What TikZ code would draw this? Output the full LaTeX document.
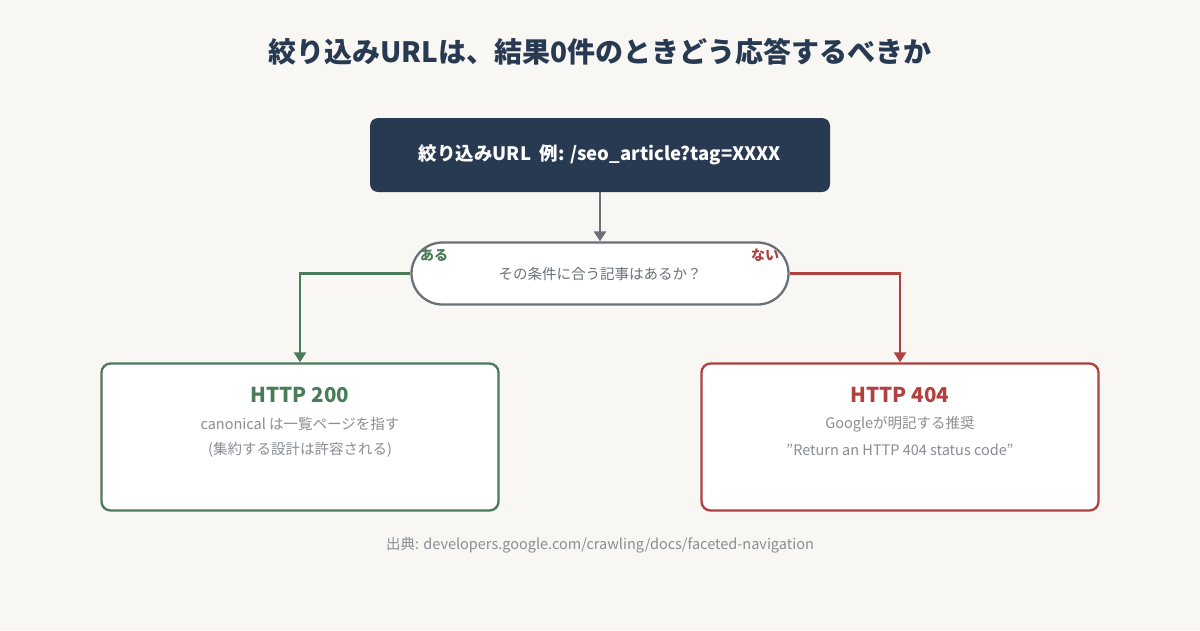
\documentclass[tikz,border=0pt]{standalone}
\usepackage{fontspec}
\setmainfont{Noto Sans CJK JP}
\usetikzlibrary{arrows.meta}
\definecolor{bg}{HTML}{F8F7F4}
\definecolor{navy}{HTML}{283A52}
\definecolor{gr}{HTML}{4A7C59}
\definecolor{rd}{HTML}{B0413E}
\definecolor{gy}{HTML}{6B7078}
\definecolor{tx}{HTML}{8A8D92}
\tikzset{
 box/.style={draw, line width=2.3pt, fill=white, rounded corners=9pt, minimum width=397pt, minimum height=147pt},
 conn/.style={line width=2.3pt, -{Triangle[length=10pt,width=12pt]}},
 body/.style={font=\fontsize{14.5}{16}\selectfont, text=tx},
}
\begin{document}
\begin{tikzpicture}[x=1pt,y=-1pt]
\fill[bg] (0,0) rectangle (1200,630);
\useasboundingbox (0,0) rectangle (1200,630);
\node (title) at (600,52) {\fontsize{28}{30}\selectfont\bfseries\color{navy}絞り込みURLは、結果0件のときどう応答するべきか};
\node[fill=navy, rounded corners=8pt, minimum width=460pt, minimum height=74pt, text=white, font=\fontsize{18.5}{20}\selectfont\bfseries] (top) at (600,155) {絞り込みURL\ \ 例: /seo\_article?tag=XXXX};
\node[draw=gy, line width=2.3pt, fill=white, rounded corners=31pt, minimum width=377pt, minimum height=62pt, font=\fontsize{14.5}{16}\selectfont, text=gy] (q) at (600,273.5) {その条件に合う記事はあるか？};
\node[font=\fontsize{14}{15}\selectfont\bfseries, text=gr] (yes) at (434,255) {ある};
\node[font=\fontsize{14}{15}\selectfont\bfseries, text=rd] (no) at (765,255) {ない};
\node[box, draw=gr] (l) at (300,437) {};
\node[box, draw=rd] (r) at (900,437) {};
\draw[conn, gy] (top.south) -- (q.north);
\draw[conn, gr] (q.west) -| (l.north);
\draw[conn, rd] (q.east) -| (r.north);
\node[font=\fontsize{20.5}{22}\selectfont\bfseries, text=gr] (l1) at (300,395) {HTTP 200};
\node[body] (l2) at (300,424) {canonical は一覧ページを指す};
\node[body] (l3) at (300,450) {(集約する設計は許容される)};
\node[font=\fontsize{20.5}{22}\selectfont\bfseries, text=rd] (r1) at (900,395) {HTTP 404};
\node[body] (r2) at (900,424) {Googleが明記する推奨};
\node[body] (r3) at (900,450) {\symbol{34}Return an HTTP 404 status code\symbol{34}};
\node[body] (src) at (600,545) {出典: developers.google.com/crawling/docs/faceted-navigation};
\end{tikzpicture}
\end{document}
